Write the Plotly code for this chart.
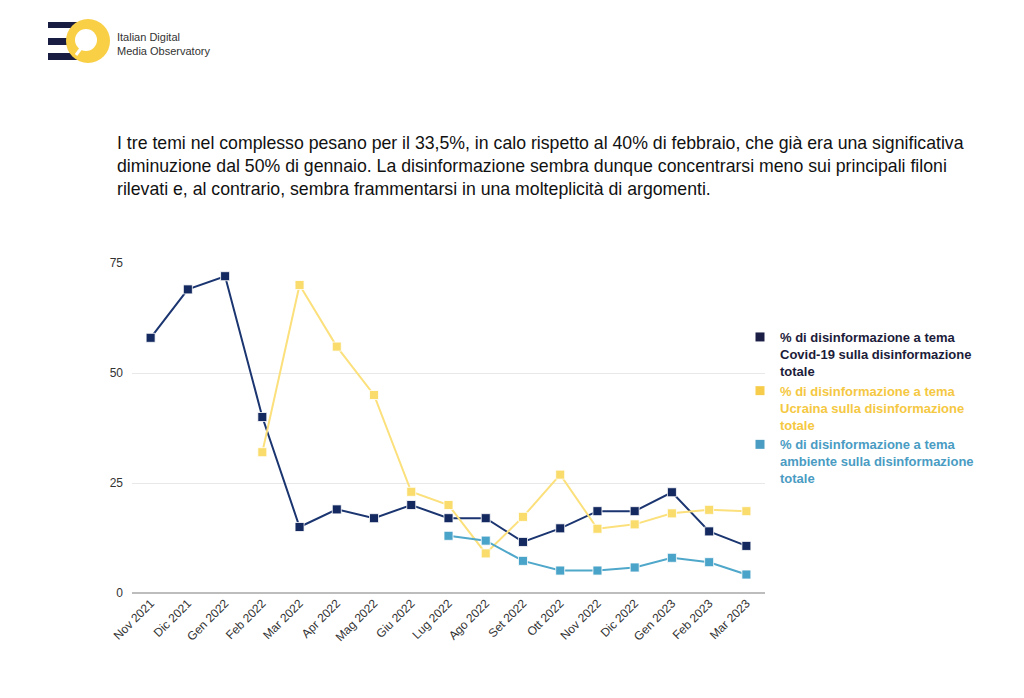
import plotly.graph_objects as go

months = ["Nov 2021", "Dic 2021", "Gen 2022", "Feb 2022", "Mar 2022", "Apr 2022",
          "Mag 2022", "Giu 2022", "Lug 2022", "Ago 2022", "Set 2022", "Ott 2022",
          "Nov 2022", "Dic 2022", "Gen 2023", "Feb 2023", "Mar 2023"]
covid = [58, 69, 72, 40, 15, 19, 17, 20, 17, 17, 11.6, 14.7, 18.6, 18.6, 22.9, 14.0, 10.7]
ucraina = [None, None, None, 32, 70, 56, 45, 23, 20, 9.0, 17.3, 26.9, 14.6, 15.6, 18.1, 18.9, 18.6]
ambiente = [None, None, None, None, None, None, None, None, 13.0, 11.9, 7.3, 5.1, 5.1, 5.8, 8.0, 7.0, 4.2]

names = [
    "% di disinformazione a tema<br>Covid-19 sulla disinformazione<br>totale",
    "% di disinformazione a tema<br>Ucraina sulla disinformazione<br>totale",
    "% di disinformazione a tema<br>ambiente sulla disinformazione<br>totale",
]
line_colors = ["#1b3570", "#fbe07c", "#4fa7ca"]
marker_colors = ["#13295f", "#fadc6c", "#4aa3c8"]
legend_marker_colors = ["#1c1f45", "#f7cc4a", "#4a9cc3"]
legend_text_colors = ["#1c1c3a", "#f5c842", "#4a9cc3"]
series = [covid, ucraina, ambiente]

fig = go.Figure()
for vals, lc, mc in zip(series, line_colors, marker_colors):
    fig.add_trace(go.Scatter(
        x=months, y=vals, mode="lines+markers", showlegend=False,
        line=dict(color=lc, width=2),
        marker=dict(symbol="square", size=9, color=mc, line=dict(color="white", width=0.8)),
        hoverinfo="x+y",
    ))
for name, lmc, ltc in zip(names, legend_marker_colors, legend_text_colors):
    fig.add_trace(go.Scatter(
        x=[None], y=[None], mode="markers", showlegend=True,
        name=f"<b><span style='color:{ltc}'>{name}</span></b>",
        marker=dict(symbol="square", size=9, color=lmc),
    ))

W, H = 1024, 698
OFF = 8  # page body offset
L, R, T, B = 132, 765, 263, 593

def px(x):
    return (x - L) / (R - L)

def py(y):
    return (B - y) / (B - T)

shapes = []
# logo bars
for y0, y1 in [(22, 28), (38, 45), (53, 60)]:
    shapes.append(dict(type="rect", xref="paper", yref="paper",
                       x0=px(48), x1=px(86), y0=py(y1), y1=py(y0),
                       fillcolor="#1a1d42", line=dict(width=0), layer="above"))
# yellow circle
shapes.append(dict(type="circle", xref="paper", yref="paper",
                   x0=px(66), x1=px(110), y0=py(63), y1=py(19),
                   fillcolor="#f8cf45", line=dict(width=0), layer="above"))
# magnifier handle
shapes.append(dict(type="line", xref="paper", yref="paper",
                   x0=px(82), x1=px(76), y0=py(47), y1=py(55),
                   line=dict(color="white", width=3), layer="above"))
# inner white circle
shapes.append(dict(type="circle", xref="paper", yref="paper",
                   x0=px(75), x1=px(97), y0=py(51), y1=py(29),
                   fillcolor="white", line=dict(width=0), layer="above"))

annotations = [
    dict(text="Italian Digital<br>Media Observatory", xref="paper", yref="paper",
         x=px(115), y=py(29), xanchor="left", yanchor="top", align="left",
         showarrow=False, font=dict(size=11, color="#333333")),
    dict(text=("I tre temi nel complesso pesano per il 33,5%, in calo rispetto al 40% di febbraio, che già era una significativa<br>"
               "diminuzione dal 50% di gennaio. La disinformazione sembra dunque concentrarsi meno sui principali filoni<br>"
               "rilevati e, al contrario, sembra frammentarsi in una molteplicità di argomenti."),
         xref="paper", yref="paper", x=px(115), y=py(131), xanchor="left", yanchor="top",
         align="left", showarrow=False, font=dict(size=17.7, color="#111111")),
]

fig.update_layout(
    width=W, height=H,
    margin=dict(l=L - OFF, r=W - (R - OFF), t=T - OFF, b=H - (B - OFF), pad=0),
    paper_bgcolor="white", plot_bgcolor="white",
    font=dict(family="Liberation Sans, Arial, sans-serif", size=12, color="#333333"),
    xaxis=dict(type="category", range=[-0.5, 16.5], tickangle=-45, showgrid=False,
               showline=False, ticks="", tickfont=dict(size=12, color="#333333"),
               fixedrange=True),
    yaxis=dict(range=[0, 75], tickvals=[0, 25, 50, 75], showgrid=True, gridcolor="#e8e8e8",
               gridwidth=1, zeroline=True, zerolinecolor="#bdbdbd", zerolinewidth=1.5,
               ticks="", tickfont=dict(size=12, color="#333333"), ticklabelstandoff=8,
               fixedrange=True),
    legend=dict(x=px(740), y=py(322), xanchor="left", yanchor="top", valign="top",
                font=dict(size=13), itemwidth=30, tracegroupgap=10, bgcolor="rgba(0,0,0,0)"),
    shapes=shapes,
    annotations=annotations,
)

fig.write_html("out.html")
